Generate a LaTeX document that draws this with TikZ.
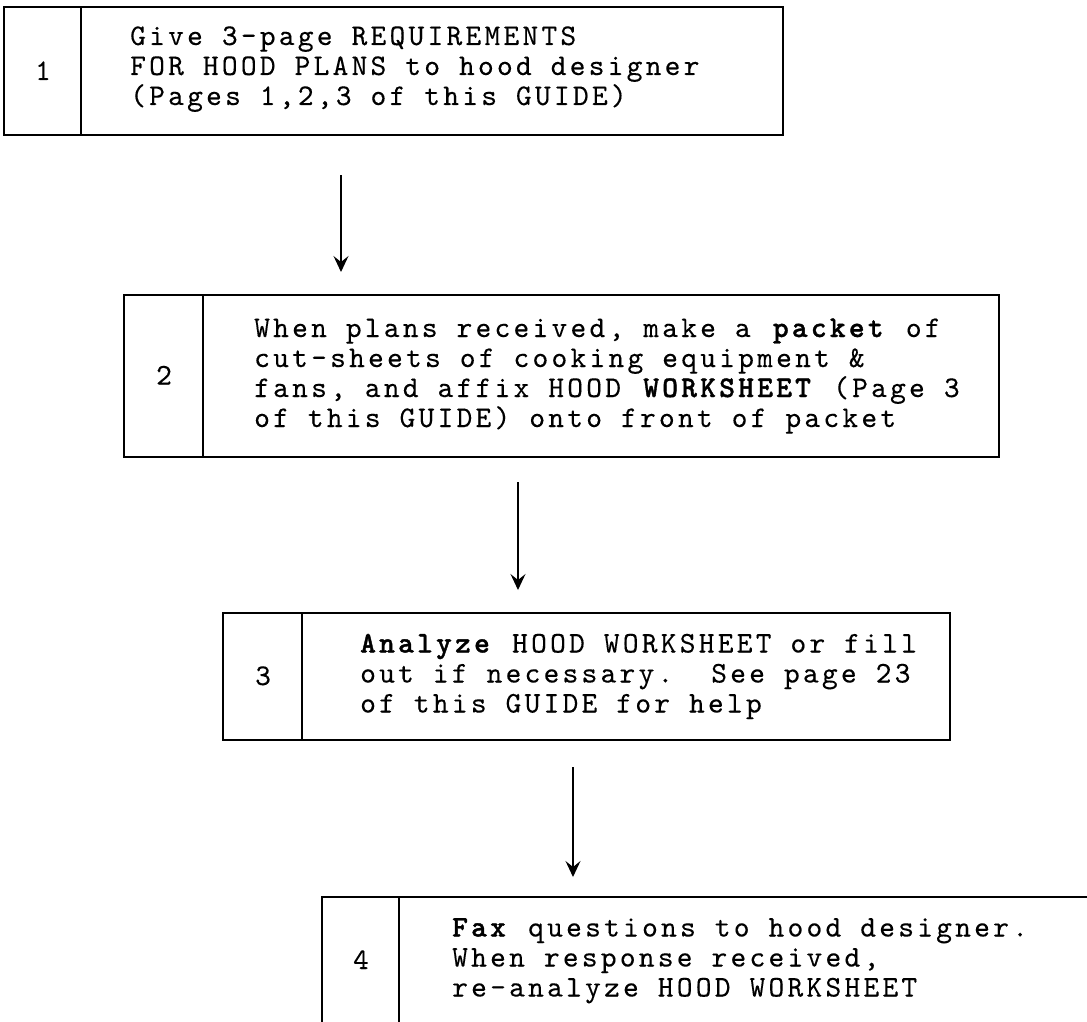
\documentclass[tikz,border=0pt]{standalone}
\usepackage{fontspec}
\newfontfamily\twfont{lmmono10-regular}[Extension=.otf, LetterSpace=10.8, UprightFeatures={FakeBold=0.2}, BoldFont=lmmonolt10-bold, BoldFeatures={FakeBold=1.2}]
\usetikzlibrary{arrows.meta,calc}
\begin{document}
\frenchspacing
\begin{tikzpicture}[x=1pt,y=-1pt,
  boxst/.style={draw, line width=1.8pt, rectangle, inner sep=0pt},
  divst/.style={line width=1.4pt},
  numst/.style={font={\twfont\fontsize{30}{30}\selectfont}, inner sep=0pt, anchor=base},
  ln/.style={font={\twfont\fontsize{30}{30}\selectfont}, anchor=base west, inner sep=0pt},
  arr/.style={line width=1.4pt, -{Stealth[length=16pt,width=15pt,inset=6pt]}}]
\useasboundingbox (0,0) rectangle (1087,1022);
\clip (0,0) rectangle (1087,1022);
% box 1
\node[boxst, minimum width=779pt, minimum height=128pt] (b1) at (393.5,71) {};
\draw[divst] ([xshift=78pt]b1.north west) -- ([xshift=78pt]b1.south west);
\node[numst] (n1) at (43,80) {1};
\node[ln] (t1a) at (130,45) {Give 3-page REQUIREMENTS};
\node[ln] (t1b) at (130,75) {FOR HOOD PLANS to hood designer};
\node[ln] (t1c) at (130,105) {(Pages 1,2,3 of this GUIDE)};
% box 2
\node[boxst, minimum width=875pt, minimum height=162pt] (b2) at (561.5,376) {};
\draw[divst] ([xshift=80pt]b2.north west) -- ([xshift=80pt]b2.south west);
\node[numst] (n2) at (164,384.5) {2};
\node[ln] (t2a) at (254,337) {When plans received, make a \textbf{packet} of};
\node[ln] (t2b) at (254,367) {cut-sheets of cooking equipment \&};
\node[ln] (t2c) at (254,397) {fans, and affix HOOD \textbf{WORKSHEET} (Page 3};
\node[ln] (t2d) at (254,427) {of this GUIDE) onto front of packet};
% box 3
\node[boxst, minimum width=727pt, minimum height=127pt] (b3) at (586.5,676.5) {};
\draw[divst] ([xshift=80pt]b3.north west) -- ([xshift=80pt]b3.south west);
\node[numst] (n3) at (263,685) {3};
\node[ln] (t3a) at (360,652.5) {\textbf{Analyze} HOOD WORKSHEET or fill};
\node[ln] (t3b) at (360,682.5) {out if necessary.\ \ See page 23};
\node[ln] (t3c) at (360,712.5) {of this GUIDE for help};
% box 4
\node[boxst, minimum width=800pt, minimum height=127pt] (b4) at (722,960.5) {};
\draw[divst] ([xshift=78pt]b4.north west) -- ([xshift=78pt]b4.south west);
\node[numst] (n4) at (361,969) {4};
\node[ln] (t4a) at (452,936.5) {\textbf{Fax} questions to hood designer.};
\node[ln] (t4b) at (452,966.5) {When response received,};
\node[ln] (t4c) at (452,996.5) {re-analyze HOOD WORKSHEET};
% arrows
\coordinate (a1s) at (341,175);
\coordinate (a1e) at (341,272);
\coordinate (a2s) at (518,482);
\coordinate (a2e) at (518,590);
\coordinate (a3s) at (573,767);
\coordinate (a3e) at (573,877);
\draw[arr] (a1s) -- (a1e);
\draw[arr] (a2s) -- (a2e);
\draw[arr] (a3s) -- (a3e);
\end{tikzpicture}
\end{document}
